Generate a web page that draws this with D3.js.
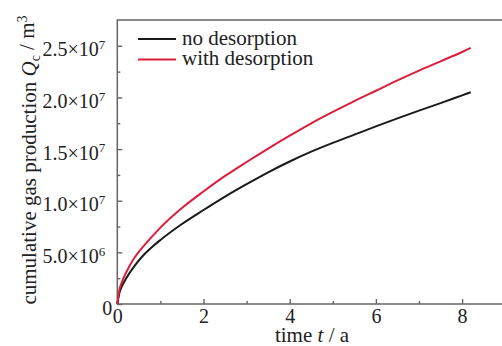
<!DOCTYPE html>
<html>
<head>
<meta charset="utf-8">
<script src="https://cdn.jsdelivr.net/npm/d3@7"></script>
<style>
  body { margin: 0; background: #fff; }
  svg text { font-family: "Liberation Serif", "DejaVu Serif", serif; fill: #222; }
  .axis line { stroke: #666; stroke-width: 1.4; }
  .axis path { display: none; }
</style>
</head>
<body>
<svg id="chart" width="502" height="346"></svg>
<script>
// time in years
const TIME = [0, 0.05, 0.1, 0.2, 0.4, 0.6, 0.8, 1, 1.5, 2, 2.5, 3, 3.5, 4, 4.5, 5, 5.5, 6, 6.5, 7, 7.5, 8, 8.2];
// cumulative gas production, m^3
const NO_DESORPTION = [0, 1.1e6, 1.65e6, 2.45e6, 3.7e6, 4.7e6, 5.5e6, 6.2e6, 7.75e6, 9.1e6, 1.04e7, 1.16e7, 1.275e7,
  1.38e7, 1.475e7, 1.56e7, 1.64e7, 1.72e7, 1.797e7, 1.872e7, 1.945e7, 2.02e7, 2.05e7];
const WITH_DESORPTION = [0, 1.4e6, 2.05e6, 3.0e6, 4.5e6, 5.55e6, 6.5e6, 7.4e6, 9.3e6, 1.09e7, 1.24e7, 1.375e7, 1.505e7,
  1.63e7, 1.75e7, 1.86e7, 1.965e7, 2.065e7, 2.165e7, 2.26e7, 2.35e7, 2.44e7, 2.48e7];

const SERIES = [
  { name: "no desorption", values: NO_DESORPTION, color: "#1a1a1a" },
  { name: "with desorption", values: WITH_DESORPTION, color: "#dc1e3c" },
];

const X_MAJOR = [0, 2, 4, 6, 8];
const X_MINOR = [1, 3, 5, 7];
const Y_MAJOR = [0, 5e6, 1e7, 1.5e7, 2e7, 2.5e7];
const Y_MINOR = [2.5e6, 7.5e6, 1.25e7, 1.75e7, 2.25e7];
const Y_LABELS = ["0", "5.0×10|6", "1.0×10|7", "1.5×10|7", "2.0×10|7", "2.5×10|7"];

const svg = d3.select("#chart");

const x = d3.scaleLinear().domain([0, 9]).range([117.3, 505.2]);
const y = d3.scaleLinear().domain([0, 2.75e7]).range([304, 20]);

// frame
svg.append("rect")
  .attr("x", x(0)).attr("y", y(2.75e7))
  .attr("width", x(9) - x(0)).attr("height", y(0) - y(2.75e7))
  .attr("fill", "none").attr("stroke", "#666").attr("stroke-width", 1.5);

// x axis (inward ticks)
svg.append("g").attr("class", "axis")
  .attr("transform", `translate(0,${y(0)})`)
  .call(d3.axisBottom(x).tickValues(X_MAJOR).tickSize(-5).tickSizeOuter(0).tickPadding(5))
  .call((g) => g.selectAll("text").attr("font-size", 20).style("font-family", null));

svg.append("g").attr("class", "axis")
  .attr("transform", `translate(0,${y(0)})`)
  .call(d3.axisBottom(x).tickValues(X_MINOR).tickSize(-3).tickSizeOuter(0).tickFormat(""));

// y axis
const yAxis = svg.append("g").attr("class", "axis")
  .attr("transform", `translate(${x(0)},0)`)
  .call(d3.axisLeft(y).tickValues(Y_MAJOR).tickSize(-5).tickSizeOuter(0).tickPadding(12));

yAxis.selectAll("text")
  .attr("font-size", 20)
  .attr("dy", "0.5em")
  .each(function (d, i) {
    const t = d3.select(this).text("");
    const parts = Y_LABELS[i].split("|");
    t.append("tspan").text(parts[0]);
    if (parts[1]) {
      t.append("tspan").attr("dy", "-0.55em").attr("font-size", 13).text(parts[1]);
    } else {
      t.attr("x", -5);
    }
  });

svg.append("g").attr("class", "axis")
  .attr("transform", `translate(${x(0)},0)`)
  .call(d3.axisLeft(y).tickValues(Y_MINOR).tickSize(-3).tickSizeOuter(0).tickFormat(""));

// curves
const line = d3.line()
  .x((d, i) => x(TIME[i]))
  .y((d) => y(d))
  .curve(d3.curveMonotoneX);

SERIES.forEach((s) => {
  svg.append("path")
    .attr("d", line(s.values))
    .attr("fill", "none")
    .attr("stroke", s.color)
    .attr("stroke-width", 2);
});

// legend
SERIES.forEach((s, i) => {
  const ly = 39 + i * 20.5;
  svg.append("line")
    .attr("x1", 138).attr("x2", 176)
    .attr("y1", ly).attr("y2", ly)
    .attr("stroke", s.color).attr("stroke-width", 2);
  svg.append("text")
    .attr("x", 182).attr("y", ly + 5.5)
    .attr("font-size", 21)
    .text(s.name);
});

// axis titles
const xt = svg.append("text")
  .attr("x", 312).attr("y", 342)
  .attr("text-anchor", "middle")
  .attr("font-size", 21);
xt.append("tspan").text("time ");
xt.append("tspan").attr("font-style", "italic").text("t");
xt.append("tspan").text(" / a");

const yt = svg.append("text")
  .attr("transform", "translate(36,160) rotate(-90)")
  .attr("text-anchor", "middle")
  .attr("font-size", 21);
yt.append("tspan").text("cumulative gas production ");
yt.append("tspan").attr("font-style", "italic").text("Q");
yt.append("tspan").attr("dy", "0.3em").attr("font-size", 14).text("c");
yt.append("tspan").attr("dy", "-0.3em").text(" / m");
yt.append("tspan").attr("dy", "-0.5em").attr("font-size", 14).text("3");
</script>
</body>
</html>
